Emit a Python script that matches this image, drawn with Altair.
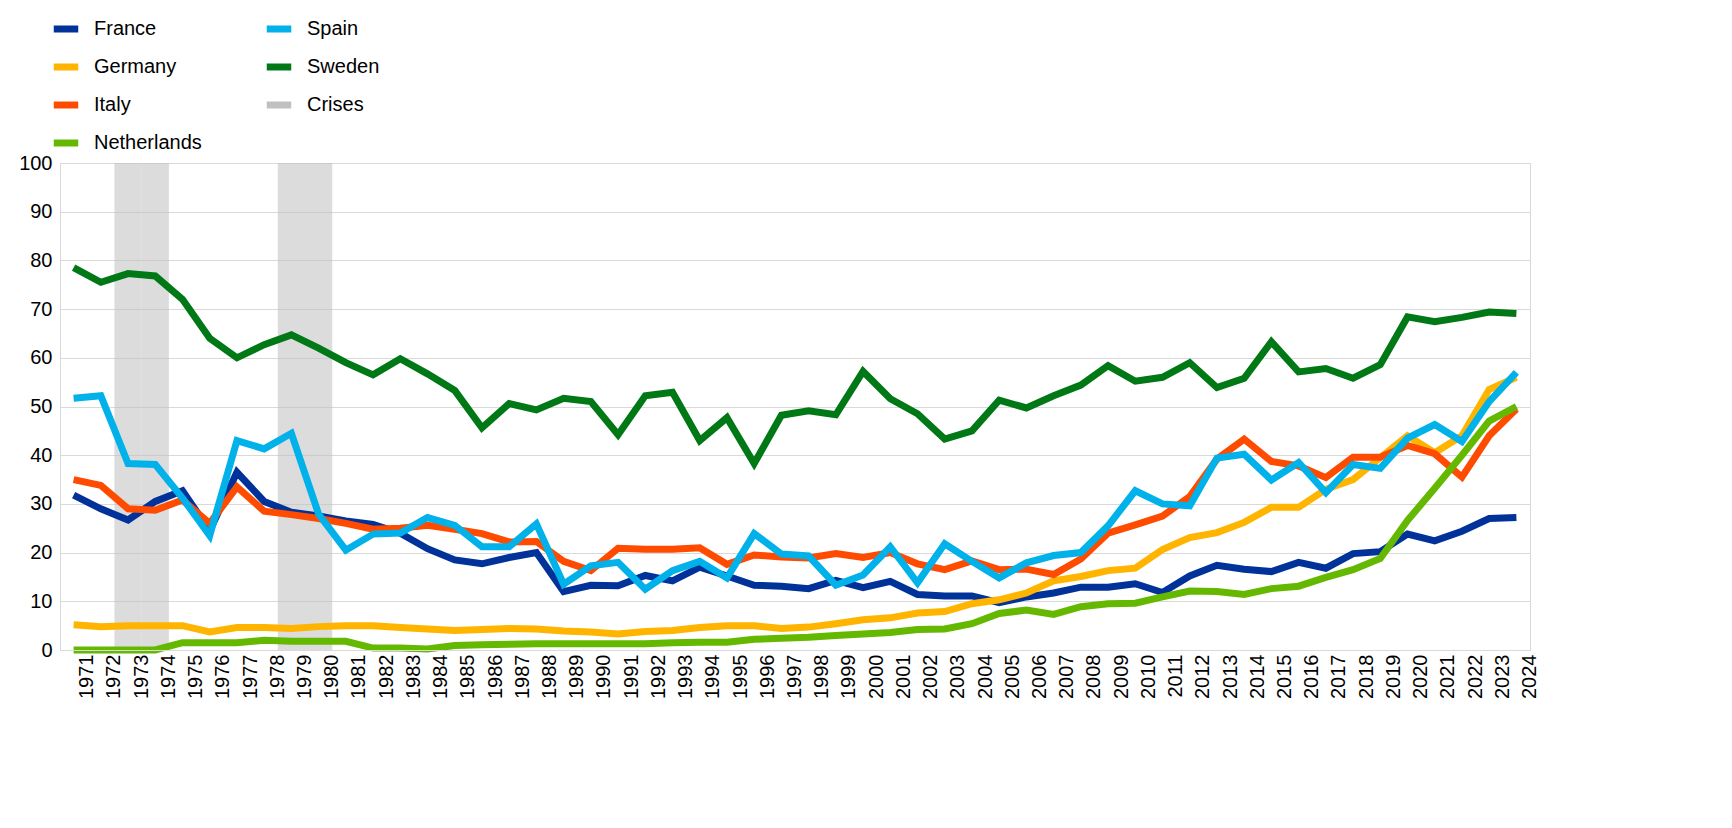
import altair as alt
import pandas as pd

years = list(range(1971, 2025))
france = [31.8,29,26.7,30.5,32.7,24.5,36.5,30.5,28.3,27.5,26.5,25.8,24,20.8,18.5,17.7,19,20,12,13.3,13.2,15.3,14.2,17,15.2,13.3,13.1,12.6,14.3,12.8,14.1,11.4,11.1,11.1,9.7,10.9,11.7,12.9,12.9,13.6,11.8,15.2,17.4,16.6,16.1,18,16.8,19.8,20.2,23.8,22.4,24.4,27,27.2]
germany = [5.2,4.8,5,5,5,3.7,4.6,4.6,4.4,4.8,5,5,4.6,4.3,4,4.2,4.4,4.3,3.9,3.7,3.3,3.8,4,4.6,5,5,4.4,4.7,5.4,6.2,6.6,7.6,7.9,9.5,10.3,11.7,14.2,15.1,16.3,16.8,20.6,23.1,24.1,26.2,29.3,29.3,33,35,39.5,44,40.5,44,53.5,56]
italy = [35,33.8,29,28.7,30.8,26,33.5,28.5,27.8,27,26,24.8,25,25.6,24.8,23.9,22.2,22.3,18.2,16.3,20.9,20.7,20.7,21,17.6,19.5,19.1,18.9,19.8,19,20,17.7,16.5,18.3,16.5,16.6,15.5,18.7,24,25.7,27.5,31.5,39.2,43.3,38.7,37.8,35.4,39.6,39.6,42,40.3,35.5,44,49.5]
netherlands = [0,0,0,0,1.5,1.5,1.5,2,1.8,1.8,1.8,0.4,0.4,0.2,0.9,1.1,1.2,1.3,1.3,1.3,1.3,1.3,1.5,1.6,1.6,2.2,2.4,2.6,3,3.3,3.6,4.2,4.3,5.4,7.5,8.2,7.3,8.9,9.5,9.6,10.9,12.1,12,11.4,12.6,13.1,14.9,16.5,18.8,26.6,33.2,40,47,50]
spain = [51.7,52.2,38.3,38.1,31.2,23.5,43,41.3,44.5,27.9,20.5,23.8,24,27.2,25.6,21.2,21.2,25.9,13.5,17.3,18,12.5,16.3,18.2,14.8,23.9,19.7,19.3,13.3,15.4,21.2,13.8,21.8,18.2,14.8,17.9,19.4,20,25.5,32.7,30,29.6,39.4,40.2,34.9,38.5,32.3,38.1,37.3,43.5,46.3,42.8,51,57]
sweden = [78.5,75.5,77.3,76.8,72,64,60,62.7,64.7,62,59,56.5,59.8,56.7,53.3,45.6,50.6,49.3,51.7,51,44.2,52.2,52.9,43,47.7,38.3,48.2,49.1,48.3,57.2,51.6,48.5,43.3,45,51.3,49.7,52.2,54.4,58.4,55.2,56,59,53.9,55.8,63.3,57.1,57.8,55.8,58.6,68.4,67.4,68.3,69.4,69.1]
crisis_years = [1973, 1974, 1979, 1980]

series = {"France": france, "Germany": germany, "Italy": italy,
          "Netherlands": netherlands, "Spain": spain, "Sweden": sweden}
rows = []
for name, vals in series.items():
    for y, v in zip(years, vals):
        rows.append({"year": str(y), "country": name, "value": v})
df = pd.DataFrame(rows)
crises = pd.DataFrame({"year": [str(y) for y in crisis_years], "country": "Crises", "top": 100})

domain = ["France", "Germany", "Italy", "Netherlands", "Spain", "Sweden", "Crises"]
rng = ["#003299", "#ffb400", "#ff4b00", "#65b800", "#00b1ea", "#007816", "#c0c0c0"]
color = alt.Color("country:N", scale=alt.Scale(domain=domain, range=rng),
                  legend=alt.Legend(title=None, orient="none", legendX=-10, legendY=-150,
                                    columns=2, symbolType="stroke", symbolStrokeWidth=7,
                                    symbolSize=600, symbolOpacity=1, labelFontSize=20, rowPadding=8,
                                    columnPadding=50, labelFont="Liberation Sans",
                                    labelColor="#000", labelOffset=12))

xenc = alt.X("year:O", title=None, scale=alt.Scale(domain=[str(y) for y in years], paddingInner=0, paddingOuter=0),
             axis=alt.Axis(labelAngle=-90, labelFontSize=20, labelFont="Liberation Sans",
                           labelColor="#000", ticks=False, bandPosition=0, labelOffset=13.6,
                           gridColor="#d9d9d9", domainColor="#d9d9d9", labelPadding=4,
                           labelBaseline="middle"))

shade = alt.Chart(crises).mark_rect(opacity=0.55).encode(
    x=xenc, y=alt.Y("top:Q"), y2=alt.datum(0), color=color)

lines = alt.Chart(df).mark_line(strokeWidth=7).encode(
    x=xenc,
    y=alt.Y("value:Q", title=None, scale=alt.Scale(domain=[0, 100]),
            axis=alt.Axis(tickCount=10, labelFontSize=20, labelFont="Liberation Sans",
                          labelColor="#000", ticks=False, gridColor="#d9d9d9",
                          domainColor="#d9d9d9", labelPadding=8)),
    color=color, detail="country:N")

chart = (shade + lines).properties(width=1470, height=487, padding={"left": 10, "top": 5, "right": 10, "bottom": 5}).configure_view(stroke="#d9d9d9")
chart.save("out.html", embed_options={"renderer": "svg", "actions": False})
